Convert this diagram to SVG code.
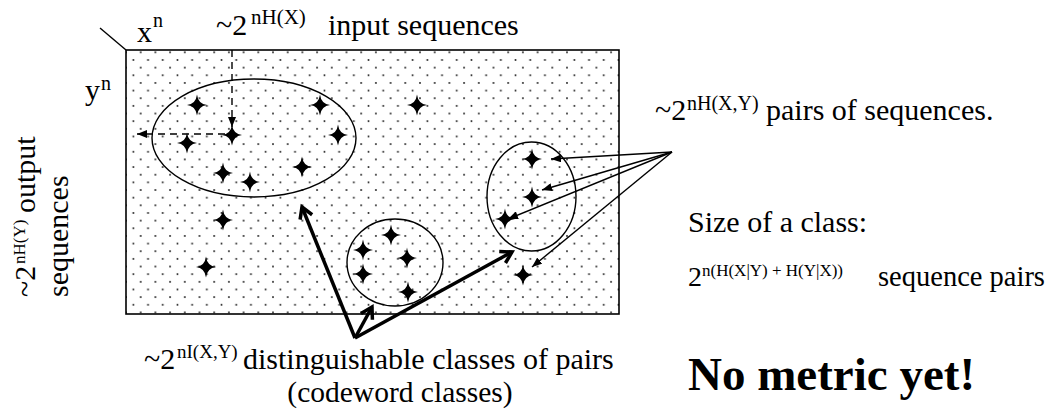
<svg xmlns="http://www.w3.org/2000/svg" width="1060" height="409" viewBox="0 0 1060 409" font-family="'Liberation Serif','Times New Roman',serif">
<style>
text{font-family:"Liberation Serif","Times New Roman",serif;fill:#000}
.m{font-size:30px}
.s{font-size:20px}
.ell{fill:none;stroke:#000;stroke-width:1.4}
.thin{stroke:#000;stroke-width:1.4;fill:none;marker-end:url(#tri)}
.dash{stroke:#000;stroke-width:1.4;stroke-dasharray:7 5;fill:none;marker-end:url(#tri)}
.thick{stroke:#000;stroke-width:3.5;fill:none;marker-end:url(#chev)}
</style>
<defs>
<pattern id="dots" x="126" y="48.5" width="14.7" height="15.3" patternUnits="userSpaceOnUse">
<rect width="14.7" height="15.3" fill="#fff"/>
<circle cx="0" cy="3.8" r="1" fill="#222"/>
<circle cx="14.7" cy="3.8" r="1" fill="#222"/>
<circle cx="7.35" cy="11.45" r="1" fill="#222"/>
</pattern>
<path id="star" d="M0,-10.5 Q1.1,-1.1 10,0 Q1.1,1.1 0,10.5 Q-1.1,1.1 -10,0 Q-1.1,-1.1 0,-10.5 Z" fill="#000"/>
<marker id="tri" viewBox="0 0 10 8" refX="10" refY="4" markerWidth="10" markerHeight="8" markerUnits="userSpaceOnUse" orient="auto"><path d="M0,0 L10,4 L0,8 Z" fill="#000"/></marker>
<marker id="chev" viewBox="0 0 16 16" refX="13" refY="8" markerWidth="16" markerHeight="16" markerUnits="userSpaceOnUse" orient="auto" overflow="visible"><path d="M2,1.5 L13,8 L2,14.5" fill="none" stroke="#000" stroke-width="3.5"/></marker>
</defs>

<g id="frame">
<rect x="126" y="50" width="493" height="264" fill="url(#dots)" stroke="#000" stroke-width="1.6"/>
<line x1="100" y1="28" x2="126" y2="50" stroke="#000" stroke-width="1.4"/>
</g>

<g id="labels-axes">
<text class="m" x="137" y="42">x</text><text class="s" x="153" y="27">n</text>
<text class="m" x="85" y="100">y</text><text class="s" x="101" y="90">n</text>
<text class="m" x="216" y="35">~2</text><text class="s" x="251" y="24" style="font-size:21px">nH(X)</text>
<text class="m" x="328" y="35">input sequences</text>
</g>

<g id="output-label">
<g transform="translate(35,297) rotate(-90)">
<text class="m" x="0" y="0">~2</text>
<text style="font-size:17px" x="33" y="-10">nH(Y)</text>
<text class="m" x="84" y="0">output</text>
</g>
<g transform="translate(68,297) rotate(-90)">
<text class="m" x="0" y="0">sequences</text>
</g>
</g>

<g id="class-big">
<ellipse class="ell" cx="254" cy="138" rx="102" ry="59"/>
</g>
<g id="class-mid">
<ellipse class="ell" cx="395" cy="262.5" rx="48" ry="43.5"/>
</g>
<g id="class-right">
<ellipse class="ell" cx="531.5" cy="196.5" rx="44.5" ry="54.5"/>
</g>

<g id="stars">
<use href="#star" x="197" y="105"/>
<use href="#star" x="320" y="105"/>
<use href="#star" x="417" y="105"/>
<use href="#star" x="232" y="135"/>
<use href="#star" x="338" y="135"/>
<use href="#star" x="187" y="143"/>
<use href="#star" x="223" y="173"/>
<use href="#star" x="250" y="182"/>
<use href="#star" x="302" y="167"/>
<use href="#star" x="223" y="220"/>
<use href="#star" x="206" y="267"/>
<use href="#star" x="391" y="235"/>
<use href="#star" x="363" y="250"/>
<use href="#star" x="407" y="258"/>
<use href="#star" x="363" y="274"/>
<use href="#star" x="408" y="292"/>
<use href="#star" x="532" y="159"/>
<use href="#star" x="532" y="197"/>
<use href="#star" x="505" y="219"/>
<use href="#star" x="523" y="275"/>
</g>

<g id="connectors">
<line class="dash" x1="232" y1="50" x2="232" y2="127"/>
<line class="dash" x1="225" y1="134" x2="137" y2="134"/>
<line class="thin" x1="672" y1="152" x2="551" y2="159"/>
<line class="thin" x1="672" y1="152" x2="542" y2="190"/>
<line class="thin" x1="672" y1="152" x2="508" y2="219"/>
<line class="thin" x1="672" y1="152" x2="532" y2="267"/>
<line class="thick" x1="355" y1="338" x2="302" y2="207"/>
<line class="thick" x1="355" y1="338" x2="372" y2="307"/>
<line class="thick" x1="355" y1="338" x2="512" y2="252"/>
</g>

<g id="right-texts">
<text class="m" x="655" y="120">~2</text><text class="s" x="687" y="110">nH(X,Y)</text>
<text class="m" x="766" y="120">pairs of sequences.</text>
<text class="m" x="688" y="232">Size of a class:</text>
<text x="688" y="286" style="font-size:28px">2</text><text x="702" y="276" style="font-size:17px">n(H(X|Y) + H(Y|X))</text>
<text x="878" y="286" style="font-size:28.5px">sequence pairs</text>
<text x="688" y="390" style="font-size:47px;font-weight:bold">No metric yet!</text>
</g>

<g id="bottom-texts">
<text class="m" x="144" y="368.5">~2</text><text style="font-size:19px" x="177" y="357.5">nI(X,Y)</text>
<text class="m" x="243" y="368.5">distinguishable classes of pairs</text>
<text x="400" y="402" text-anchor="middle" style="font-size:29.5px">(codeword classes)</text>
</g>
</svg>
